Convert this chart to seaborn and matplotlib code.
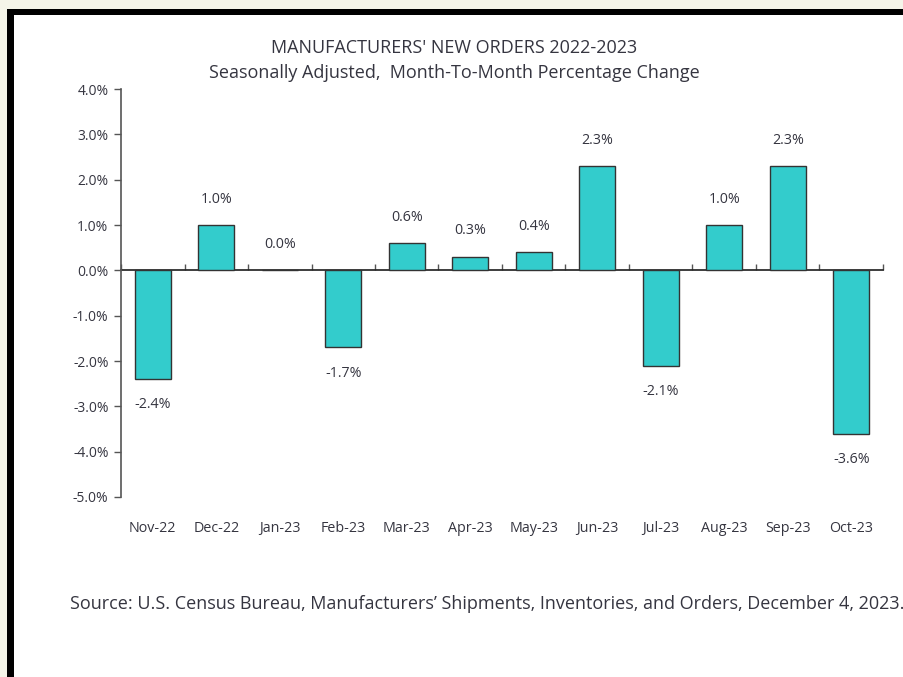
import matplotlib
matplotlib.use("Agg")
import matplotlib.pyplot as plt
import seaborn as sns
import pandas as pd
from matplotlib.patches import Rectangle

months = ["Nov-22", "Dec-22", "Jan-23", "Feb-23", "Mar-23", "Apr-23",
          "May-23", "Jun-23", "Jul-23", "Aug-23", "Sep-23", "Oct-23"]
changes = [-2.4, 1.0, 0.0, -1.7, 0.6, 0.3, 0.4, 2.3, -2.1, 1.0, 2.3, -3.6]
yticks = [4.0, 3.0, 2.0, 1.0, 0.0, -1.0, -2.0, -3.0, -4.0, -5.0]
title = "MANUFACTURERS' NEW ORDERS 2022-2023"
subtitle = "Seasonally Adjusted,  Month-To-Month Percentage Change"
source = "Source: U.S. Census Bureau, Manufacturers\u2019 Shipments, Inventories, and Orders, December 4, 2023."

sns.set_theme(style="white")
plt.rcParams["font.family"] = ["Open Sans", "DejaVu Sans"]

TXT = "#353540"
W, H = 904, 677
fig = plt.figure(figsize=(W / 100, H / 100), dpi=100)
fig.patch.set_facecolor("#F5F5E9")
# white panel + black border (top and left)
fig.patches.append(Rectangle((14 / W, 0), 1, 1 - 15 / H, transform=fig.transFigure,
                             facecolor="white", edgecolor="none", zorder=-2))
fig.patches.append(Rectangle((7 / W, 0), 7 / W, 1 - 9 / H, transform=fig.transFigure,
                             facecolor="black", edgecolor="none", zorder=-1))
fig.patches.append(Rectangle((7 / W, 1 - 15 / H), 1, 6 / H, transform=fig.transFigure,
                             facecolor="black", edgecolor="none", zorder=-1))

ax = fig.add_axes([121 / W, 1 - 497 / H, (883 - 121) / W, (497 - 89) / H])
ax.set_zorder(3)
ax.set_facecolor("none")

df = pd.DataFrame({"month": months, "change": changes})
sns.barplot(data=df, x="month", y="change", color="#33CCCC", saturation=1,
            edgecolor="#333333", linewidth=1.0, width=0.57, ax=ax)

ax.set_xlim(-0.5, len(months) - 0.5)
ax.set_ylim(-5.0, 4.0)
ax.set_yticks(yticks)
ax.set_yticklabels([f"{v:.1f}%" for v in yticks], fontsize=10, color=TXT)
ax.tick_params(axis="y", direction="out", length=5, width=1, color="#555555", left=True, pad=4)
ax.set_xlabel("")
ax.set_ylabel("")
ax.tick_params(axis="x", length=0, pad=17, labelsize=10.3, labelcolor=TXT)

for s in ["top", "right", "bottom"]:
    ax.spines[s].set_visible(False)
ax.spines["left"].set_color("#555555")
ax.spines["left"].set_linewidth(1.2)

# zero line with boundary ticks
sec = ax.secondary_xaxis(5.0 / 9.0)
sec.set_xticks([i - 0.5 for i in range(len(months) + 1)])
sec.set_xticklabels([])
sec.tick_params(axis="x", direction="out", length=4, width=1, color="#555555")
sec.spines["bottom"].set_color("#555555")
sec.spines["bottom"].set_linewidth(1.2)

for i, v in enumerate(changes):
    off = 0.57 if v >= 0 else -0.57
    ax.text(i, v + off, f"{v:.1f}%", ha="center", va="center", fontsize=10.3, color=TXT)

fig.text(454 / W, 1 - 48 / H, title, ha="center", va="center", fontsize=13, color=TXT)
fig.text(454 / W, 1 - 73 / H, subtitle, ha="center", va="center", fontsize=13, color=TXT)
fig.text(70 / W, 1 - 604 / H, source, ha="left", va="center", fontsize=13, color=TXT)

fig.savefig("out.png", dpi=100)
